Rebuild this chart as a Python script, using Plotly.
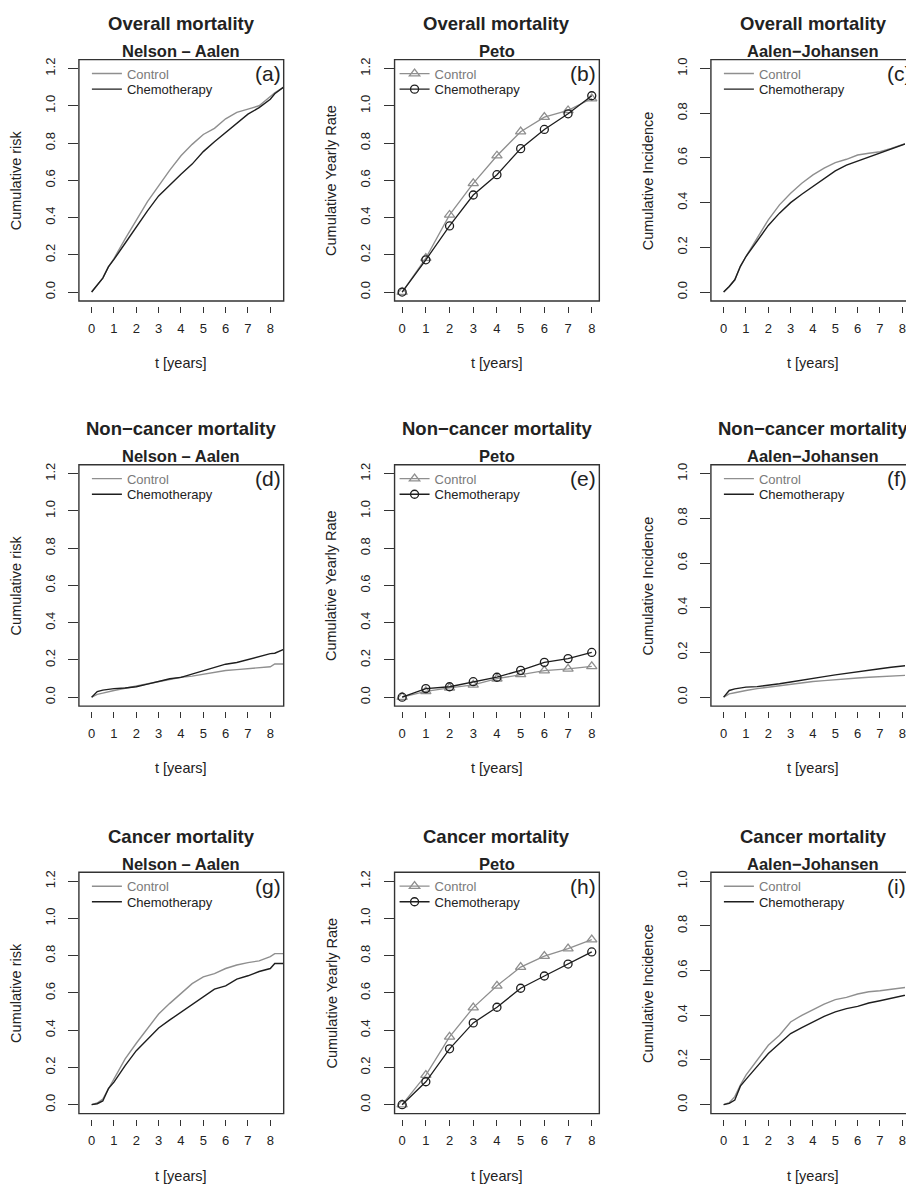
import plotly.graph_objects as go

# ---------------- data ----------------
T_CURVE = [0, 0.25, 0.5, 0.75, 1.0, 1.5, 2.0, 2.5, 3.0, 3.5, 4.0, 4.5,
           5.0, 5.5, 6.0, 6.5, 7.0, 7.5, 8.0, 8.2, 8.6]
YEARS = [0, 1, 2, 3, 4, 5, 6, 7, 8]

# (a) Overall mortality, Nelson-Aalen
A_CTRL = [0, 0.035, 0.075, 0.135, 0.18, 0.286, 0.39, 0.486, 0.57, 0.655, 0.732, 0.793,
          0.846, 0.879, 0.93, 0.965, 0.982, 1.0, 1.05, 1.07, 1.10]
A_CHEMO = [0, 0.035, 0.075, 0.135, 0.175, 0.262, 0.352, 0.436, 0.516, 0.575, 0.632, 0.687,
           0.754, 0.807, 0.857, 0.905, 0.955, 0.99, 1.035, 1.065, 1.10]
# (b) Overall mortality, Peto
B_CTRL = [0, 0.182, 0.414, 0.584, 0.732, 0.861, 0.939, 0.975, 1.039]
B_CHEMO = [0, 0.173, 0.355, 0.521, 0.630, 0.770, 0.873, 0.957, 1.054]
# (c) Overall mortality, Aalen-Johansen
C_CTRL = [0, 0.025, 0.055, 0.115, 0.159, 0.241, 0.323, 0.39, 0.442, 0.487, 0.524, 0.554,
          0.579, 0.594, 0.613, 0.621, 0.628, 0.643, 0.661, 0.668, 0.68]
C_CHEMO = [0, 0.025, 0.055, 0.115, 0.159, 0.226, 0.298, 0.353, 0.40, 0.4375, 0.472, 0.509,
           0.542, 0.568, 0.586, 0.606, 0.625, 0.643, 0.661, 0.668, 0.68]
# (d) Non-cancer mortality, Nelson-Aalen
D_CTRL = [0, 0.015, 0.022, 0.03, 0.036, 0.048, 0.06, 0.073, 0.082, 0.097, 0.107, 0.113,
          0.124, 0.135, 0.143, 0.148, 0.153, 0.16, 0.163, 0.178, 0.178]
D_CHEMO = [0, 0.03, 0.038, 0.042, 0.046, 0.049, 0.056, 0.07, 0.083, 0.099, 0.106, 0.123,
           0.143, 0.158, 0.177, 0.186, 0.202, 0.22, 0.234, 0.236, 0.257]
# (e) Non-cancer mortality, Peto
E_CTRL = [0, 0.031, 0.050, 0.066, 0.099, 0.122, 0.143, 0.152, 0.165]
E_CHEMO = [0, 0.046, 0.056, 0.083, 0.107, 0.144, 0.187, 0.207, 0.240]
# (f) Non-cancer mortality, Aalen-Johansen
F_CTRL = [0, 0.015, 0.02, 0.026, 0.03, 0.038, 0.045, 0.052, 0.058, 0.064, 0.07, 0.074,
          0.079, 0.083, 0.086, 0.089, 0.092, 0.095, 0.098, 0.099, 0.10]
F_CHEMO = [0, 0.03, 0.037, 0.042, 0.045, 0.047, 0.052, 0.06, 0.068, 0.077, 0.083, 0.092,
           0.10, 0.106, 0.115, 0.12, 0.127, 0.134, 0.14, 0.143, 0.145]
# (g) Cancer mortality, Nelson-Aalen
G_CTRL = [0, 0.009, 0.03, 0.085, 0.144, 0.246, 0.33, 0.406, 0.487, 0.544, 0.597, 0.65,
          0.686, 0.704, 0.731, 0.75, 0.763, 0.772, 0.795, 0.811, 0.811]
G_CHEMO = [0, 0.005, 0.02, 0.086, 0.121, 0.21, 0.29, 0.353, 0.412, 0.455, 0.496, 0.537,
           0.579, 0.62, 0.638, 0.674, 0.692, 0.715, 0.731, 0.758, 0.758]
# (h) Cancer mortality, Peto
H_CTRL = [0, 0.159, 0.364, 0.521, 0.638, 0.739, 0.798, 0.838, 0.886]
H_CHEMO = [0, 0.123, 0.300, 0.439, 0.523, 0.625, 0.691, 0.755, 0.820]
# (i) Cancer mortality, Aalen-Johansen
I_CTRL = [0, 0.009, 0.036, 0.088, 0.132, 0.2, 0.266, 0.311, 0.37, 0.40, 0.425, 0.45,
          0.47, 0.48, 0.495, 0.505, 0.51, 0.515, 0.52, 0.525, 0.53]
I_CHEMO = [0, 0.006, 0.021, 0.083, 0.113, 0.17, 0.229, 0.274, 0.318, 0.345, 0.37, 0.395,
           0.415, 0.43, 0.44, 0.455, 0.465, 0.475, 0.485, 0.49, 0.50]

ROW_TITLES = ["Overall mortality", "Non\u2212cancer mortality", "Cancer mortality"]
COL_SUBTITLES = ["Nelson \u2013 Aalen", "Peto", "Aalen\u2212Johansen"]
COL_YTITLES = ["Cumulative risk", "Cumulative Yearly Rate", "Cumulative Incidence"]
LETTERS = ["a", "b", "c", "d", "e", "f", "g", "h", "i"]
SERIES_NAMES = ["Control", "Chemotherapy"]
X_TITLE = "t [years]"
X_TICKS = [0, 1, 2, 3, 4, 5, 6, 7, 8]
Y_TICKS_12 = [0.0, 0.2, 0.4, 0.6, 0.8, 1.0, 1.2]
Y_TICKS_10 = [0.0, 0.2, 0.4, 0.6, 0.8, 1.0]

PANEL_DATA = [
    (A_CTRL, A_CHEMO), (B_CTRL, B_CHEMO), (C_CTRL, C_CHEMO),
    (D_CTRL, D_CHEMO), (E_CTRL, E_CHEMO), (F_CTRL, F_CHEMO),
    (G_CTRL, G_CHEMO), (H_CTRL, H_CHEMO), (I_CTRL, I_CHEMO),
]

# ---------------- layout / style ----------------
W, H = 906, 1185
FONT = "Liberation Sans, Arial, Helvetica, sans-serif"
GRAY = "#8f8f8f"
GRAY_TXT = "#7a7a7a"
DARK = "#1e1e1e"
AXC = "#333333"
COL_LEFT = [79.0, 395.0, 711.7]
ROW_TOP = [57.7, 463.5, 871.7]
BOX_W, BOX_H = 205.0, 241.8


def fx(p):
    return p / W


def fy(p):
    return 1 - p / H


fig = go.Figure()
shapes, annotations = [], []
layout = dict(width=W, height=H, margin=dict(l=0, r=0, t=0, b=0),
              paper_bgcolor="white", plot_bgcolor="white",
              font=dict(family=FONT, color="#222"), showlegend=True)

for k in range(9):
    r, c = divmod(k, 3)
    left, top = COL_LEFT[c], ROW_TOP[r]
    right, bottom = left + BOX_W, top + BOX_H
    xr = [-0.32, 8.32] if c == 1 else [-0.57, 8.6]
    full_span = xr[1] - xr[0]
    if right > W:
        xr[1] = xr[0] + full_span * (W - left) / BOX_W
    yr = [-0.04, 1.04] if c == 2 else [-0.048, 1.248]
    yt = Y_TICKS_10 if c == 2 else Y_TICKS_12
    sfx = "" if k == 0 else str(k + 1)
    xa, ya = "x" + sfx, "y" + sfx
    lg1 = "legend" + ("" if k == 0 else str(2 * k + 1))
    lg2 = "legend" + str(2 * k + 2)

    def px_to_data(p, left=left, xr0=xr[0], span=full_span):
        return xr0 + (p - left) * span / BOX_W

    layout["xaxis" + sfx] = dict(
        domain=[fx(left), fx(min(right, W))], range=xr, anchor="free",
        position=fy(bottom + 5), tickvals=X_TICKS, ticks="outside", ticklen=6,
        tickwidth=1.2, tickcolor=AXC, showline=False, showgrid=False, zeroline=False,
        tickfont=dict(size=13, family=FONT, color="#222"), ticklabelstandoff=4,
        ticklabeloverflow="allow")
    layout["yaxis" + sfx] = dict(
        domain=[fy(bottom), fy(top)], range=yr, anchor=xa, tickvals=yt,
        tickformat=".1f", ticks="outside", ticklen=10, tickwidth=1.2, tickcolor=AXC,
        tickangle=-90, showline=False, showgrid=False, zeroline=False,
        tickfont=dict(size=13, family=FONT, color="#222"), ticklabelstandoff=8)

    ctrl, chemo = PANEL_DATA[k]
    if c == 1:
        xs = YEARS
        ctrl_tr = dict(mode="lines+markers", line=dict(color=GRAY, width=1.3),
                       marker=dict(symbol="triangle-up-open", size=9, color=GRAY,
                                   line=dict(width=1.3, color=GRAY)))
        chemo_tr = dict(mode="lines+markers", line=dict(color=DARK, width=1.3),
                        marker=dict(symbol="circle-open", size=8, color=DARK,
                                    line=dict(width=1.3, color=DARK)))
        lg_x = left + 0
    else:
        xs = T_CURVE
        ctrl_tr = dict(mode="lines", line=dict(color=GRAY, width=1.4))
        chemo_tr = dict(mode="lines", line=dict(color=DARK, width=1.4))
        lg_x = left + 8
    fig.add_trace(go.Scatter(x=xs, y=ctrl, xaxis=xa, yaxis=ya, legend=lg1,
                             name=SERIES_NAMES[0], hoverinfo="skip", **ctrl_tr))
    fig.add_trace(go.Scatter(x=xs, y=chemo, xaxis=xa, yaxis=ya, legend=lg2,
                             name=SERIES_NAMES[1], hoverinfo="skip", **chemo_tr))

    for lg, dy, col in ((lg1, -1.0, GRAY_TXT), (lg2, 14.6, "#222")):
        layout[lg] = dict(x=fx(lg_x), y=fy(top + dy), xanchor="left", yanchor="top",
                          bgcolor="rgba(0,0,0,0)", borderwidth=0, itemwidth=30,
                          font=dict(size=13, family=FONT, color=col))

    # plot box
    shapes.append(dict(type="rect", xref="paper", yref="paper",
                       x0=fx(left), x1=fx(right), y0=fy(bottom), y1=fy(top),
                       line=dict(color=AXC, width=1.4), layer="above"))
    cx = (left + right) / 2
    # titles
    annotations.append(dict(xref="paper", yref="paper", x=fx(cx), y=fy(top - 36),
                            text=ROW_TITLES[r], showarrow=False, xanchor="center",
                            yanchor="middle",
                            font=dict(size=18.5, family=FONT, color="#222", weight="bold")))
    annotations.append(dict(xref="paper", yref="paper", x=fx(cx), y=fy(top - 8.5),
                            text=COL_SUBTITLES[c], showarrow=False, xanchor="center",
                            yanchor="middle",
                            font=dict(size=16.5, family=FONT, color="#222", weight="bold")))
    # panel letter (anchored at its left edge so the right column is cut by the page edge)
    annotations.append(dict(xref=xa, yref="paper", x=px_to_data(right - 31), y=fy(top + 14),
                            text="(%s)" % LETTERS[k], showarrow=False, xanchor="left",
                            yanchor="middle", font=dict(size=21, family=FONT, color="#222")))
    # axis titles
    annotations.append(dict(xref="paper", yref="paper", x=fx(cx), y=fy(bottom + 62),
                            text=X_TITLE, showarrow=False, xanchor="center",
                            yanchor="middle", font=dict(size=14.5, family=FONT, color="#222")))
    annotations.append(dict(xref="paper", yref="paper", x=fx(left - 63),
                            y=fy((top + bottom) / 2), text=COL_YTITLES[c], textangle=-90,
                            showarrow=False, xanchor="center", yanchor="middle",
                            font=dict(size=14.5, family=FONT, color="#222")))

layout["shapes"] = shapes
layout["annotations"] = annotations
fig.update_layout(**layout)
fig.write_html("out.html", config={"displayModeBar": False},
               post_script="document.body.style.margin='0px';")
